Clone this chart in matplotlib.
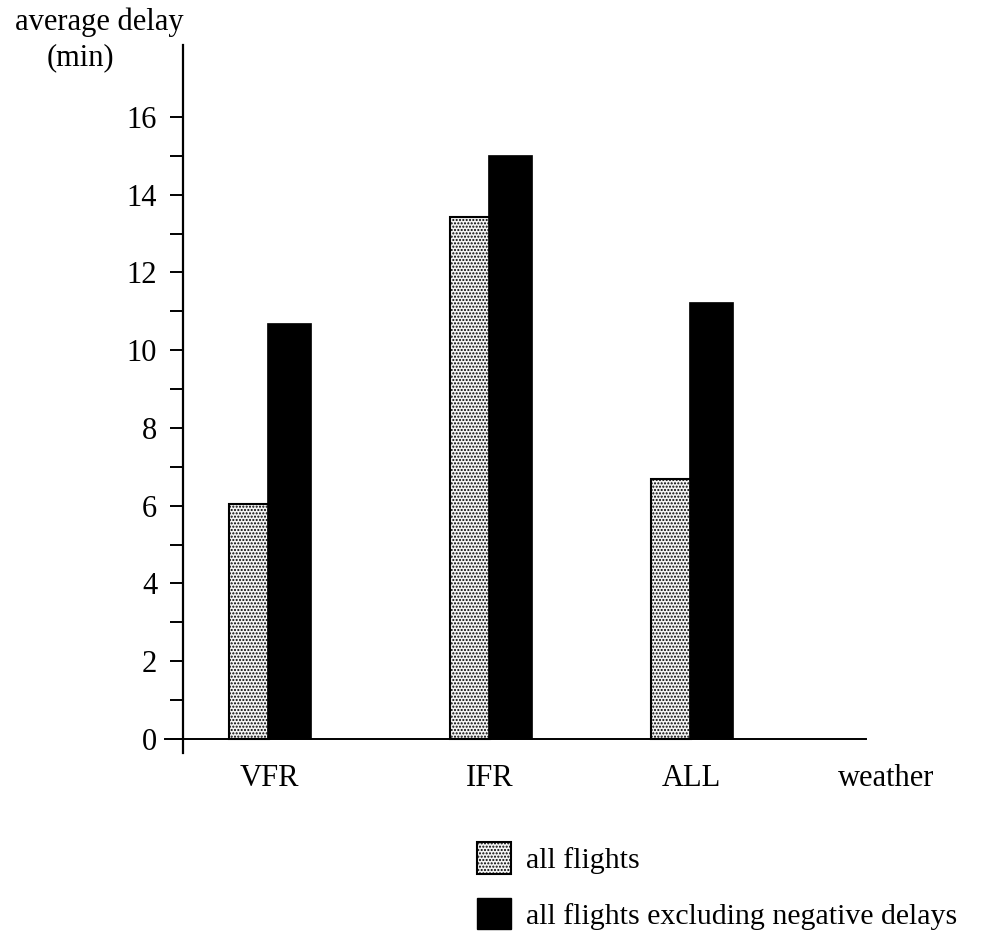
import numpy as np
import matplotlib.pyplot as plt
from matplotlib.patches import Patch

plt.rcParams['font.family'] = ['Liberation Serif', 'DejaVu Serif']
plt.rcParams['hatch.linewidth'] = 1.0

# data
categories = ['VFR', 'IFR', 'ALL']
all_flights = [6.05, 13.43, 6.69]
excl_negative = [10.7, 15.02, 11.24]
yticks = [0, 2, 4, 6, 8, 10, 12, 14, 16]

# group centres (the groups are not evenly spaced in the original)
positions = np.array([0.0, 1.0, 1.91])
width = 0.18
fs = 22

fig = plt.figure(figsize=(9.84, 9.47), dpi=100)
# axes box: left spine at x=183px, spine runs from y=45px down to y=753px
ax = fig.add_axes([165 / 984, 194 / 947, (866 - 165) / 984, 708 / 947])

ax.bar(positions - width / 2, all_flights, width, color='#f4f4f4',
       edgecolor='black', linewidth=1.5, hatch='.....')
ax.bar(positions + width / 2, excl_negative, width + 0.02, color='black',
       edgecolor='black', linewidth=0.5)

ax.set_xlim(-0.47, 2.70)
ax.set_ylim(-0.36, 17.85)

# axes look
for s in ['top', 'right']:
    ax.spines[s].set_visible(False)
ax.spines['left'].set_position(('data', -0.389))
ax.spines['bottom'].set_position(('data', 0))
ax.spines['left'].set_linewidth(1.6)
ax.spines['bottom'].set_linewidth(1.4)

ax.set_yticks(yticks)
ax.set_yticks(np.arange(1, 16, 2), minor=True)
ax.set_yticklabels([str(t) for t in yticks], fontsize=fs)
ax.tick_params(axis='y', which='both', direction='out', length=9.5,
               width=1.4, pad=9)

ax.set_xticks(positions)
ax.set_xticklabels(categories, fontsize=fs)
ax.tick_params(axis='x', length=0, pad=18)

ax.annotate('weather', xy=(2.79, 0), xytext=(0, -18),
            textcoords='offset points', fontsize=fs, ha='center', va='top',
            annotation_clip=False)

# y axis title
fig.text(99 / 984, 1 - 22 / 947, 'average delay', fontsize=fs,
         ha='center', va='center')
fig.text(80 / 984, 1 - 58 / 947, '(min)', fontsize=fs,
         ha='center', va='center')

handles = [Patch(facecolor='#f4f4f4', edgecolor='black', hatch='.....',
                 linewidth=1.5),
           Patch(facecolor='black', edgecolor='black')]
fig.legend(handles, ['all flights', 'all flights excluding negative delays'],
           loc='upper left', bbox_to_anchor=(477 / 984, 1 - 842 / 947),
           frameon=False, fontsize=21.5, handlelength=1.15, handleheight=1.25,
           labelspacing=0.8, handletextpad=0.5, borderpad=0,
           borderaxespad=0)

fig.savefig('out.png', dpi=100)
